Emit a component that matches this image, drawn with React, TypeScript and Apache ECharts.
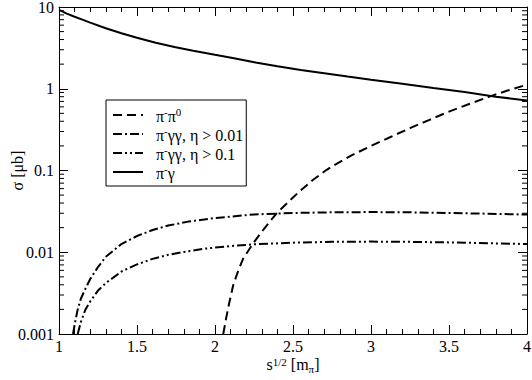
import React, { useEffect, useRef } from 'react';
import * as echarts from 'echarts';

// pi- gamma (solid)
const xPiGamma = [1.0, 1.05, 1.1, 1.15, 1.2, 1.3, 1.4, 1.5, 1.62, 1.74, 1.86, 2.0, 2.13, 2.26, 2.4, 2.55, 2.7, 2.85, 3.0, 3.2, 3.4, 3.6, 3.8, 4.0];
const yPiGamma = [9.2, 8.3, 7.6, 7.0, 6.45, 5.5, 4.78, 4.2, 3.65, 3.24, 2.92, 2.6, 2.34, 2.1, 1.88, 1.7, 1.55, 1.41, 1.29, 1.15, 1.02, 0.91, 0.8, 0.72];

// pi- pi0 (dashed)
const xPiPi0 = [2.053, 2.07, 2.09, 2.117, 2.15, 2.18, 2.245, 2.3, 2.395, 2.5, 2.545, 2.625, 2.716, 2.75, 2.875, 3.0, 3.125, 3.25, 3.375, 3.5, 3.625, 3.75, 3.875, 4.0];
const yPiPi0 = [0.001, 0.00151, 0.00234, 0.00398, 0.00603, 0.00832, 0.0129, 0.0179, 0.0299, 0.0468, 0.0562, 0.0759, 0.102, 0.112, 0.153, 0.2, 0.257, 0.33, 0.417, 0.525, 0.646, 0.79, 0.95, 1.12];

// pi- gamma gamma, eta > 0.01 (dash-dot)
const xGG01 = [1.09, 1.1, 1.12, 1.14, 1.167, 1.2, 1.25, 1.3, 1.4, 1.5, 1.6, 1.7, 1.83, 2.0, 2.25, 2.5, 2.75, 3.0, 3.25, 3.5, 3.75, 4.0];
const yGG01 = [0.001, 0.0013, 0.002, 0.0027, 0.0035, 0.0047, 0.0066, 0.0088, 0.0126, 0.0158, 0.0187, 0.0212, 0.0237, 0.0262, 0.029, 0.0302, 0.0308, 0.031, 0.0308, 0.0302, 0.0296, 0.0289];

// pi- gamma gamma, eta > 0.1 (dash-dot-dot)
const xGG1 = [1.12, 1.14, 1.17, 1.2, 1.25, 1.3, 1.4, 1.5, 1.6, 1.7, 1.8, 1.94, 2.1, 2.25, 2.5, 2.75, 3.0, 3.25, 3.5, 3.75, 4.0];
const yGG1 = [0.001, 0.0014, 0.002, 0.0025, 0.0034, 0.0042, 0.0058, 0.0071, 0.0083, 0.0093, 0.0101, 0.0111, 0.0119, 0.0125, 0.0131, 0.0134, 0.0135, 0.0134, 0.0132, 0.0129, 0.0126];

const xTicks = [1, 1.5, 2, 2.5, 3, 3.5, 4];
const yTickLabels = ['0.001', '0.01', '0.1', '1', '10'];
const yDecades = [0.001, 0.01, 0.1, 1];
const yMinorMultipliers = [2, 3, 4, 5, 6, 7, 8, 9];

const names = ['pipi0', 'gg01', 'gg1', 'pig'];
const legendLabels: Record<string, string> = {
  pipi0: '{m|π}{s|-}{m|π}{s|0}',
  gg01: '{m|π}{s|-}{m|γγ, η > 0.01}',
  gg1: '{m|π}{s|-}{m|γγ, η > 0.1}',
  pig: '{m|π}{s|-}{m|γ}',
};

const FONT = 'Liberation Serif';
const FS = 16;

function zip(xs: number[], ys: number[]) {
  return xs.map((x, i) => [x, ys[i]]);
}

export default function App() {
  const ref = useRef<HTMLDivElement>(null);
  useEffect(() => {
    if (!ref.current) return;
    const chart = echarts.init(ref.current, null, { renderer: 'svg' });
    const minorData: number[][] = [];
    yDecades.forEach((d) => yMinorMultipliers.forEach((m) => minorData.push([1, d * m])));

    const common = {
      type: 'value',
      min: 1,
      max: 4,
      interval: 0.5,
      axisLine: { show: true, onZero: false, lineStyle: { color: '#000', width: 1 } },
      axisTick: { show: true, inside: true, length: 9, lineStyle: { color: '#000' } },
      minorTick: { show: true, splitNumber: 5, length: 5, lineStyle: { color: '#000' } },
      splitLine: { show: false },
    };
    const yCommon = {
      type: 'log',
      logBase: 10,
      min: 0.001,
      max: 10,
      axisLine: { show: true, onZero: false, lineStyle: { color: '#000', width: 1 } },
      axisTick: { show: true, inside: true, length: 9, lineStyle: { color: '#000' } },
      splitLine: { show: false },
    };

    const lineSeries = (name: string, data: number[][], dash: any) => ({
      name,
      type: 'line',
      data,
      symbol: 'none',
      showSymbol: false,
      smooth: false,
      clip: true,
      lineStyle: { color: '#000', width: 2, type: dash },
      itemStyle: { color: '#000' },
    });

    chart.setOption({
      animation: false,
      backgroundColor: '#fff',
      textStyle: { fontFamily: FONT },
      grid: { left: 59, right: 5, top: 7, bottom: 46, containLabel: false, outerBoundsMode: 'none' },
      xAxis: [
        {
          ...common,
          position: 'bottom',
          axisLabel: {
            color: '#000',
            fontFamily: FONT,
            fontSize: FS,
            margin: 4,
            formatter: (v: number) => (xTicks.includes(v) ? String(v) : ''),
          },
          name: '{m|s}{sup|1/2}{m| [m}{sub|π}{m|]}',
          nameLocation: 'middle',
          nameGap: 22,
          nameMoveOverlap: false,
          nameTextStyle: {
            color: '#000',
            fontFamily: FONT,
            fontSize: FS,
            rich: {
              m: { fontFamily: FONT, fontSize: FS, color: '#000', lineHeight: 18, verticalAlign: 'top' },
              sup: { fontFamily: FONT, fontSize: 11, color: '#000', lineHeight: 10, verticalAlign: 'top' },
              sub: { fontFamily: FONT, fontSize: 11, color: '#000', lineHeight: 10, verticalAlign: 'bottom' },
            },
          },
        },
        { ...common, position: 'top', axisLabel: { show: false } },
      ],
      yAxis: [
        {
          ...yCommon,
          position: 'left',
          axisLabel: {
            color: '#000',
            fontFamily: FONT,
            fontSize: FS,
            margin: 5,
            formatter: (v: number) => {
              const idx = Math.round(Math.log10(v)) + 3;
              return yTickLabels[idx] ?? '';
            },
          },
          name: 'σ [μb]',
          nameLocation: 'middle',
          nameGap: 34,
          nameRotate: 90,
          nameMoveOverlap: false,
          nameTextStyle: { color: '#000', fontFamily: FONT, fontSize: FS },
        },
        { ...yCommon, position: 'right', axisLabel: { show: false } },
      ],
      legend: {
        orient: 'vertical',
        left: 106,
        top: 100,
        data: names,
        itemWidth: 30,
        itemHeight: 14,
        itemGap: 1,
        padding: [6, 3, 5, 6],
        borderColor: '#000',
        borderWidth: 1,
        backgroundColor: '#fff',
        itemStyle: { opacity: 0, borderWidth: 0 },
        formatter: (n: string) => legendLabels[n],
        textStyle: {
          color: '#000',
          fontFamily: FONT,
          fontSize: FS,
          padding: [0, 0, 0, 8],
          rich: {
            m: { fontFamily: FONT, fontSize: FS, color: '#000', lineHeight: 18, verticalAlign: 'bottom' },
            s: { fontFamily: FONT, fontSize: 11, color: '#000', lineHeight: 10, verticalAlign: 'top' },
          },
        },
      },
      series: [
        lineSeries('pipi0', zip(xPiPi0, yPiPi0), [9, 5]),
        lineSeries('gg01', zip(xGG01, yGG01), [9, 3, 2, 3]),
        lineSeries('gg1', zip(xGG1, yGG1), [9, 3, 2, 3, 2, 3]),
        lineSeries('pig', zip(xPiGamma, yPiGamma), 'solid'),
        {
          type: 'custom',
          silent: true,
          clip: false,
          data: minorData,
          renderItem: (params: any, api: any) => {
            const v = api.value(1);
            const pl = api.coord([1, v]);
            const pr = api.coord([4, v]);
            const style = { stroke: '#000', lineWidth: 1 };
            return {
              type: 'group',
              children: [
                { type: 'line', shape: { x1: pl[0], y1: pl[1], x2: pl[0] + 5, y2: pl[1] }, style },
                { type: 'line', shape: { x1: pr[0] - 5, y1: pr[1], x2: pr[0], y2: pr[1] }, style },
              ],
            };
          },
        },
      ],
    });
    return () => chart.dispose();
  }, []);
  return <div ref={ref} style={{ width: 532, height: 380, position: 'absolute', left: 0, top: 0 }} />;
}
